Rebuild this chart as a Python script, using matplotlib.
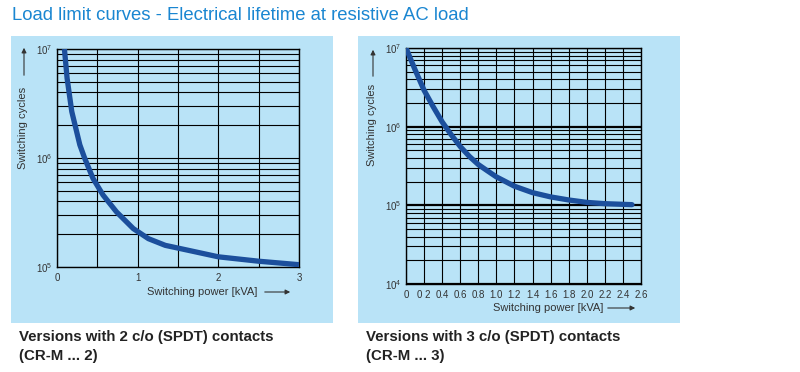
import numpy as np
import matplotlib
matplotlib.use("Agg")
import matplotlib.pyplot as plt
from matplotlib.patches import Rectangle, FancyArrowPatch
from matplotlib.ticker import FixedLocator, NullFormatter

plt.rcParams['font.family'] = ['Liberation Sans', 'DejaVu Sans']
plt.rcParams['mathtext.fontset'] = 'custom'
plt.rcParams['mathtext.rm'] = 'Liberation Sans'

# data
title = "Load limit curves - Electrical lifetime at resistive AC load"

# 2 c/o contacts (CR-M ... 2)
power2 = [0.092, 0.125, 0.183, 0.283, 0.342, 0.446, 0.571, 0.738, 0.946, 1.133, 1.342, 1.633, 2.0, 2.5, 3.0]
cycles2 = [1.0e7, 5.4e6, 2.67e6, 1.32e6, 1.0e6, 6.5e5, 4.57e5, 3.2e5, 2.25e5, 1.82e5, 1.58e5, 1.42e5,
           1.24e5, 1.13e5, 1.05e5]
xticks2 = [0, 1, 2, 3]
xticklabels2 = ["0", "1", "2", "3"]

# 3 c/o contacts (CR-M ... 3)
power3 = [0.0, 0.1, 0.2, 0.3, 0.4, 0.5, 0.6, 0.7, 0.8, 0.9, 1.0, 1.2, 1.4, 1.6, 1.8, 2.0, 2.2, 2.4, 2.5]
cycles3 = [1.0e7, 5.3e6, 2.9e6, 1.8e6, 1.15e6, 7.9e5, 5.6e5, 4.2e5, 3.3e5, 2.75e5, 2.3e5, 1.75e5, 1.45e5,
           1.28e5, 1.17e5, 1.09e5, 1.05e5, 1.03e5, 1.02e5]
xticks3 = [0, 0.2, 0.4, 0.6, 0.8, 1.0, 1.2, 1.4, 1.6, 1.8, 2.0, 2.2, 2.4, 2.6]
xticklabels3 = ["0", "0 2", "0.4", "0.6", "0.8", "1.0", "1.2", "1.4", "1.6", "1.8", "2.0", "2.2", "2.4", "2.6"]

captions = [("Versions with 2 c/o (SPDT) contacts", "(CR-M ... 2)"),
            ("Versions with 3 c/o (SPDT) contacts", "(CR-M ... 3)")]

W, H = 800, 372
bg = "#b9e3f7"
curve_col = "#1c4f9c"
title_col = "#1a86d1"
text_col = "#333333"


def fx(x):
    return x / W


def fy(y):
    return 1 - y / H


def axes_px(fig, x0, y0, x1, y1):
    return fig.add_axes([fx(x0), fy(y1), (x1 - x0) / W, (y1 - y0) / H])


def log_minors(lo, hi):
    vals = []
    for e in range(lo, hi):
        for m in range(2, 10):
            vals.append(m * 10.0 ** e)
    return vals


fig = plt.figure(figsize=(8, 3.72), dpi=100)

# blue panels
for x0, x1 in [(11, 333), (358, 680)]:
    fig.patches.append(Rectangle((fx(x0), fy(323)), (x1 - x0) / W, (323 - 36) / H,
                                 transform=fig.transFigure, facecolor=bg, edgecolor="none", zorder=-5))

fig.text(fx(12), fy(16), title, color=title_col, fontsize=13.3, va="center", ha="left")


def style_axes(ax, xlim, ylo, yhi, xmajor, xlabels, xminor, major_lw):
    ax.set_facecolor("none")
    ax.set_yscale("log")
    ax.set_xlim(*xlim)
    ax.set_ylim(10.0 ** ylo, 10.0 ** yhi)
    ax.xaxis.set_major_locator(FixedLocator(xmajor))
    ax.set_xticklabels(xlabels)
    ax.xaxis.set_minor_locator(FixedLocator(xminor))
    yt = [10.0 ** e for e in range(ylo, yhi + 1)]
    ax.yaxis.set_major_locator(FixedLocator(yt))
    ax.set_yticklabels([r"$\mathregular{10^{%d}}$" % e for e in range(ylo, yhi + 1)])
    ax.yaxis.set_minor_locator(FixedLocator(log_minors(ylo, yhi)))
    ax.yaxis.set_minor_formatter(NullFormatter())
    ax.tick_params(which="both", length=0, labelsize=7, colors=text_col, pad=3)
    ax.tick_params(axis="x", pad=4)
    ax.grid(True, which="minor", color="black", linewidth=0.8)
    ax.grid(True, which="major", axis="x", color="black", linewidth=0.8)
    ax.grid(True, which="major", axis="y", color="black", linewidth=major_lw)
    for s in ax.spines.values():
        s.set_linewidth(1.0)
        s.set_color("black")


# left chart
ax1 = axes_px(fig, 57, 49, 299, 267)
style_axes(ax1, (0, 3), 5, 7, xticks2, xticklabels2, [0.5, 1.5, 2.5], 0.8)
ax1.plot(power2, cycles2, color=curve_col, linewidth=3.8, solid_capstyle="butt",
         solid_joinstyle="round", zorder=5)

# right chart
ax2 = axes_px(fig, 406, 48, 641, 284)
style_axes(ax2, (0, 2.6), 4, 7, xticks3, xticklabels3, [], 1.6)
ax2.plot(power3, cycles3, color=curve_col, linewidth=3.8, solid_capstyle="round",
         solid_joinstyle="round", zorder=5)


def fig_arrow(x0, y0, x1, y1):
    fig.add_artist(FancyArrowPatch((fx(x0), fy(y0)), (fx(x1), fy(y1)), transform=fig.transFigure,
                                   arrowstyle="-|>", color=text_col, linewidth=0.8, mutation_scale=7))


# axis labels with arrows
for xl, ytxt, ya0, ya1 in [(23, 128, 78, 45), (372, 125, 79, 47)]:
    fig.text(fx(xl), fy(ytxt), "Switching cycles", rotation=90, fontsize=8,
             color=text_col, ha="center", va="center")
    fig_arrow(xl + 1, ya0, xl + 1, ya1)

for xs, yc, xa0, xa1 in [(147, 292, 262, 293), (493, 308, 605, 638)]:
    fig.text(fx(xs), fy(yc), "Switching power [kVA]", fontsize=8, color=text_col,
             ha="left", va="center")
    fig_arrow(xa0, yc, xa1, yc)

# captions
for xc, (l1, l2) in zip([19, 366], captions):
    fig.text(fx(xc), fy(337), l1, fontsize=10.8, fontweight="bold", color="#222222", va="center")
    fig.text(fx(xc), fy(356), l2, fontsize=10.8, fontweight="bold", color="#222222", va="center")

fig.savefig("out.png", dpi=100)
